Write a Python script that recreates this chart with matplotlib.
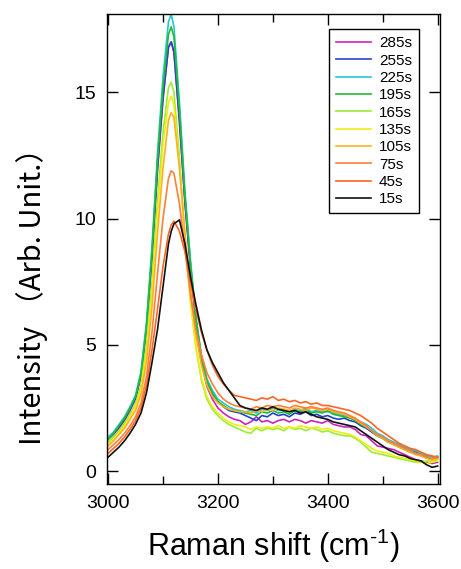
import matplotlib
matplotlib.use("Agg")
import matplotlib.pyplot as plt

plt.rcParams['font.family'] = ['Liberation Sans', 'Noto Sans CJK JP', 'DejaVu Sans']
plt.rcParams['mathtext.fontset'] = 'custom'
plt.rcParams['mathtext.rm'] = 'Liberation Sans'

# Raman shift grid (cm-1)
shift = [3000, 3010, 3020, 3030, 3040, 3050, 3060, 3070, 3080, 3090, 3100, 3110, 3115, 3120,
         3130, 3140, 3150, 3160, 3170, 3180, 3190, 3200, 3210, 3220, 3230, 3240, 3250,
         3260, 3270, 3280, 3290, 3300, 3310, 3320, 3330, 3340, 3350, 3360, 3370, 3380,
         3390, 3400, 3410, 3420, 3430, 3440, 3450, 3460, 3470, 3480, 3490,
         3500, 3510, 3520, 3530, 3540, 3550, 3560, 3570, 3580, 3590, 3600]

s285 = [1.25, 1.45, 1.70, 2.00, 2.40, 2.85, 3.75, 5.60, 8.40, 11.9, 14.7, 16.8, 17.0, 16.6,
        13.8, 10.6, 8.0, 5.8, 4.3, 3.35, 2.85, 2.50, 2.30, 2.15, 2.05, 2.00, 1.85,
        1.95, 2.15, 1.95, 2.00, 1.90, 2.00, 2.05, 1.95, 2.05, 2.00, 1.90, 2.00, 1.95,
        1.90, 2.00, 1.85, 1.80, 1.75, 1.75, 1.65, 1.45, 1.40, 1.20, 1.00,
        0.95, 0.90, 0.85, 0.75, 0.65, 0.55, 0.45, 0.40, 0.35, 0.30, 0.35]
s255 = [1.30, 1.50, 1.75, 2.05, 2.45, 2.90, 3.80, 5.70, 8.50, 12.0, 14.8, 16.8, 17.0, 16.6,
        13.9, 10.7, 8.2, 6.0, 4.5, 3.55, 3.05, 2.75, 2.55, 2.40, 2.35, 2.30, 2.20,
        2.10, 2.00, 2.20, 2.15, 2.30, 2.20, 2.25, 2.15, 2.30, 2.25, 2.35, 2.20, 2.25,
        2.15, 2.20, 2.10, 2.05, 2.10, 2.00, 1.95, 1.80, 1.70, 1.55, 1.40,
        1.30, 1.15, 1.10, 1.00, 0.90, 0.85, 0.75, 0.65, 0.60, 0.50, 0.55]
s225 = [1.35, 1.55, 1.85, 2.15, 2.55, 3.00, 3.95, 5.90, 8.90, 12.6, 15.6, 17.8, 18.1, 17.6,
        14.6, 11.1, 8.4, 6.1, 4.6, 3.65, 3.20, 2.85, 2.70, 2.55, 2.45, 2.40, 2.35,
        2.40, 2.30, 2.45, 2.40, 2.50, 2.40, 2.45, 2.35, 2.45, 2.40, 2.50, 2.35, 2.40,
        2.35, 2.35, 2.30, 2.25, 2.20, 2.15, 2.05, 1.95, 1.85, 1.70, 1.50,
        1.40, 1.25, 1.15, 1.05, 0.95, 0.85, 0.80, 0.70, 0.60, 0.55, 0.60]
s195 = [1.25, 1.50, 1.80, 2.10, 2.50, 2.95, 3.85, 5.75, 8.70, 12.3, 15.2, 17.3, 17.6, 17.2,
        14.3, 10.9, 8.2, 6.0, 4.5, 3.55, 3.10, 2.75, 2.60, 2.45, 2.40, 2.35, 2.30,
        2.25, 2.20, 2.35, 2.30, 2.40, 2.30, 2.35, 2.25, 2.40, 2.35, 2.45, 2.30, 2.35,
        2.30, 2.40, 2.25, 2.20, 2.15, 2.10, 2.00, 1.85, 1.75, 1.60, 1.40,
        1.30, 1.15, 1.05, 0.95, 0.85, 0.75, 0.70, 0.60, 0.55, 0.45, 0.50]
s165 = [1.15, 1.35, 1.60, 1.90, 2.25, 2.65, 3.40, 5.00, 7.50, 10.7, 13.4, 15.2, 15.4, 15.0,
        12.4, 9.3, 6.8, 4.9, 3.6, 2.85, 2.45, 2.20, 2.00, 1.85, 1.75, 1.65, 1.55,
        1.50, 1.70, 1.60, 1.70, 1.65, 1.70, 1.60, 1.75, 1.65, 1.70, 1.60, 1.70, 1.65,
        1.55, 1.60, 1.50, 1.45, 1.40, 1.40, 1.30, 1.15, 0.95, 0.75, 0.70,
        0.65, 0.60, 0.55, 0.50, 0.45, 0.40, 0.35, 0.35, 0.40, 0.40, 0.45]
s135 = [1.05, 1.25, 1.50, 1.80, 2.15, 2.55, 3.25, 4.70, 7.10, 10.2, 12.9, 14.6, 14.85, 14.5,
        12.1, 9.1, 6.7, 4.9, 3.7, 2.95, 2.55, 2.30, 2.10, 1.95, 1.85, 1.80, 1.75,
        1.65, 1.75, 1.70, 1.75, 1.70, 1.80, 1.70, 1.75, 1.70, 1.80, 1.75, 1.70, 1.75,
        1.65, 1.70, 1.60, 1.55, 1.50, 1.45, 1.35, 1.20, 1.05, 0.90, 0.80,
        0.75, 0.70, 0.60, 0.55, 0.50, 0.45, 0.40, 0.35, 0.30, 0.35, 0.40]
s105 = [1.00, 1.20, 1.45, 1.70, 2.05, 2.40, 3.05, 4.35, 6.50, 9.40, 12.0, 13.9, 14.2, 14.0,
        12.0, 9.4, 7.2, 5.4, 4.2, 3.40, 2.95, 2.70, 2.55, 2.45, 2.40, 2.35, 2.35,
        2.30, 2.40, 2.35, 2.45, 2.40, 2.50, 2.45, 2.40, 2.50, 2.45, 2.40, 2.50, 2.45,
        2.40, 2.45, 2.35, 2.30, 2.25, 2.15, 2.05, 1.90, 1.75, 1.60, 1.40,
        1.30, 1.15, 1.05, 0.95, 0.85, 0.75, 0.65, 0.60, 0.50, 0.45, 0.50]
s75 = [0.85, 1.05, 1.25, 1.50, 1.80, 2.15, 2.70, 3.75, 5.50, 7.80, 10.0, 11.6, 11.9, 11.8,
       10.6, 8.8, 7.0, 5.6, 4.6, 3.90, 3.45, 3.10, 2.85, 2.70, 2.60, 2.55, 2.50,
       2.45, 2.55, 2.50, 2.60, 2.55, 2.60, 2.55, 2.50, 2.60, 2.55, 2.50, 2.55, 2.50,
       2.45, 2.50, 2.40, 2.35, 2.30, 2.20, 2.10, 1.95, 1.80, 1.60, 1.45,
       1.35, 1.20, 1.10, 1.00, 0.90, 0.80, 0.70, 0.65, 0.55, 0.50, 0.55]
s45 = [0.70, 0.90, 1.10, 1.35, 1.65, 2.00, 2.50, 3.40, 4.80, 6.40, 8.10, 9.40, 9.75, 9.90,
       9.50, 8.70, 7.50, 6.40, 5.50, 4.80, 4.20, 3.75, 3.45, 3.20, 3.00, 2.95, 2.90,
       2.85, 2.80, 2.90, 2.85, 2.95, 2.80, 2.85, 2.75, 2.80, 2.70, 2.75, 2.65, 2.70,
       2.60, 2.60, 2.55, 2.50, 2.45, 2.40, 2.30, 2.20, 2.05, 1.90, 1.70,
       1.55, 1.40, 1.25, 1.10, 1.00, 0.90, 0.85, 0.75, 0.65, 0.60, 0.55]
s15 = [0.55, 0.75, 0.95, 1.20, 1.50, 1.85, 2.30, 3.10, 4.30, 5.60, 7.30, 9.00, 9.50, 9.80,
       9.95, 9.00, 7.70, 6.60, 5.60, 4.80, 4.30, 3.90, 3.50, 3.20, 2.90, 2.60, 2.50,
       2.45, 2.40, 2.50, 2.45, 2.55, 2.45, 2.40, 2.35, 2.40, 2.30, 2.35, 2.25, 2.15,
       2.10, 2.05, 1.95, 1.90, 1.85, 1.80, 1.75, 1.60, 1.45, 1.30, 1.15,
       1.00, 0.85, 0.75, 0.65, 0.60, 0.50, 0.45, 0.40, 0.25, 0.15, 0.20]

labels = ["285s", "255s", "225s", "195s", "165s", "135s", "105s", "75s", "45s", "15s"]
series = [s285, s255, s225, s195, s165, s135, s105, s75, s45, s15]
colors = ["#cc22bb", "#2244cc", "#22c8d0", "#22bb33", "#99ee33",
          "#f0ee10", "#ffb020", "#ff7f3a", "#ff6422", "#111111"]

fig = plt.figure(figsize=(4.61, 5.69), dpi=100)
ax = fig.add_axes([0.232, 0.149, 0.722, 0.826])

for y, lab, c in zip(series, labels, colors):
    ax.plot(shift, y, color=c, lw=1.2, label=lab)

ax.set_xlim(2998, 3604)
ax.set_ylim(-0.52, 18.1)
ax.set_xticks([3000, 3200, 3400, 3600])
ax.set_xticks([3100, 3300, 3500], minor=True)
ax.set_yticks([0, 5, 10, 15])
ax.tick_params(which='both', direction='in', top=True, right=True, labelsize=14,
               width=1.0, pad=8)
ax.tick_params(which='major', length=8)
ax.tick_params(which='minor', length=6)
for sp in ax.spines.values():
    sp.set_linewidth(1.0)

ax.set_xlabel("Raman shift (cm$^{\\mathregular{\u2010}1}$)", fontsize=22, labelpad=10)
ax.set_ylabel("Intensity （Arb. Unit.）", fontsize=21,
              family=['Noto Sans CJK JP', 'DejaVu Sans'])
ax.yaxis.set_label_coords(-0.178, 0.415)

leg = ax.legend(loc='upper right', bbox_to_anchor=(0.937, 0.968), borderaxespad=0,
                fontsize=11, frameon=True, fancybox=False, edgecolor='black',
                framealpha=1, handlelength=2.3, labelspacing=0.22, borderpad=0.45,
                handletextpad=0.5)
leg.get_frame().set_linewidth(1.0)

fig.savefig("out.png", dpi=100)
